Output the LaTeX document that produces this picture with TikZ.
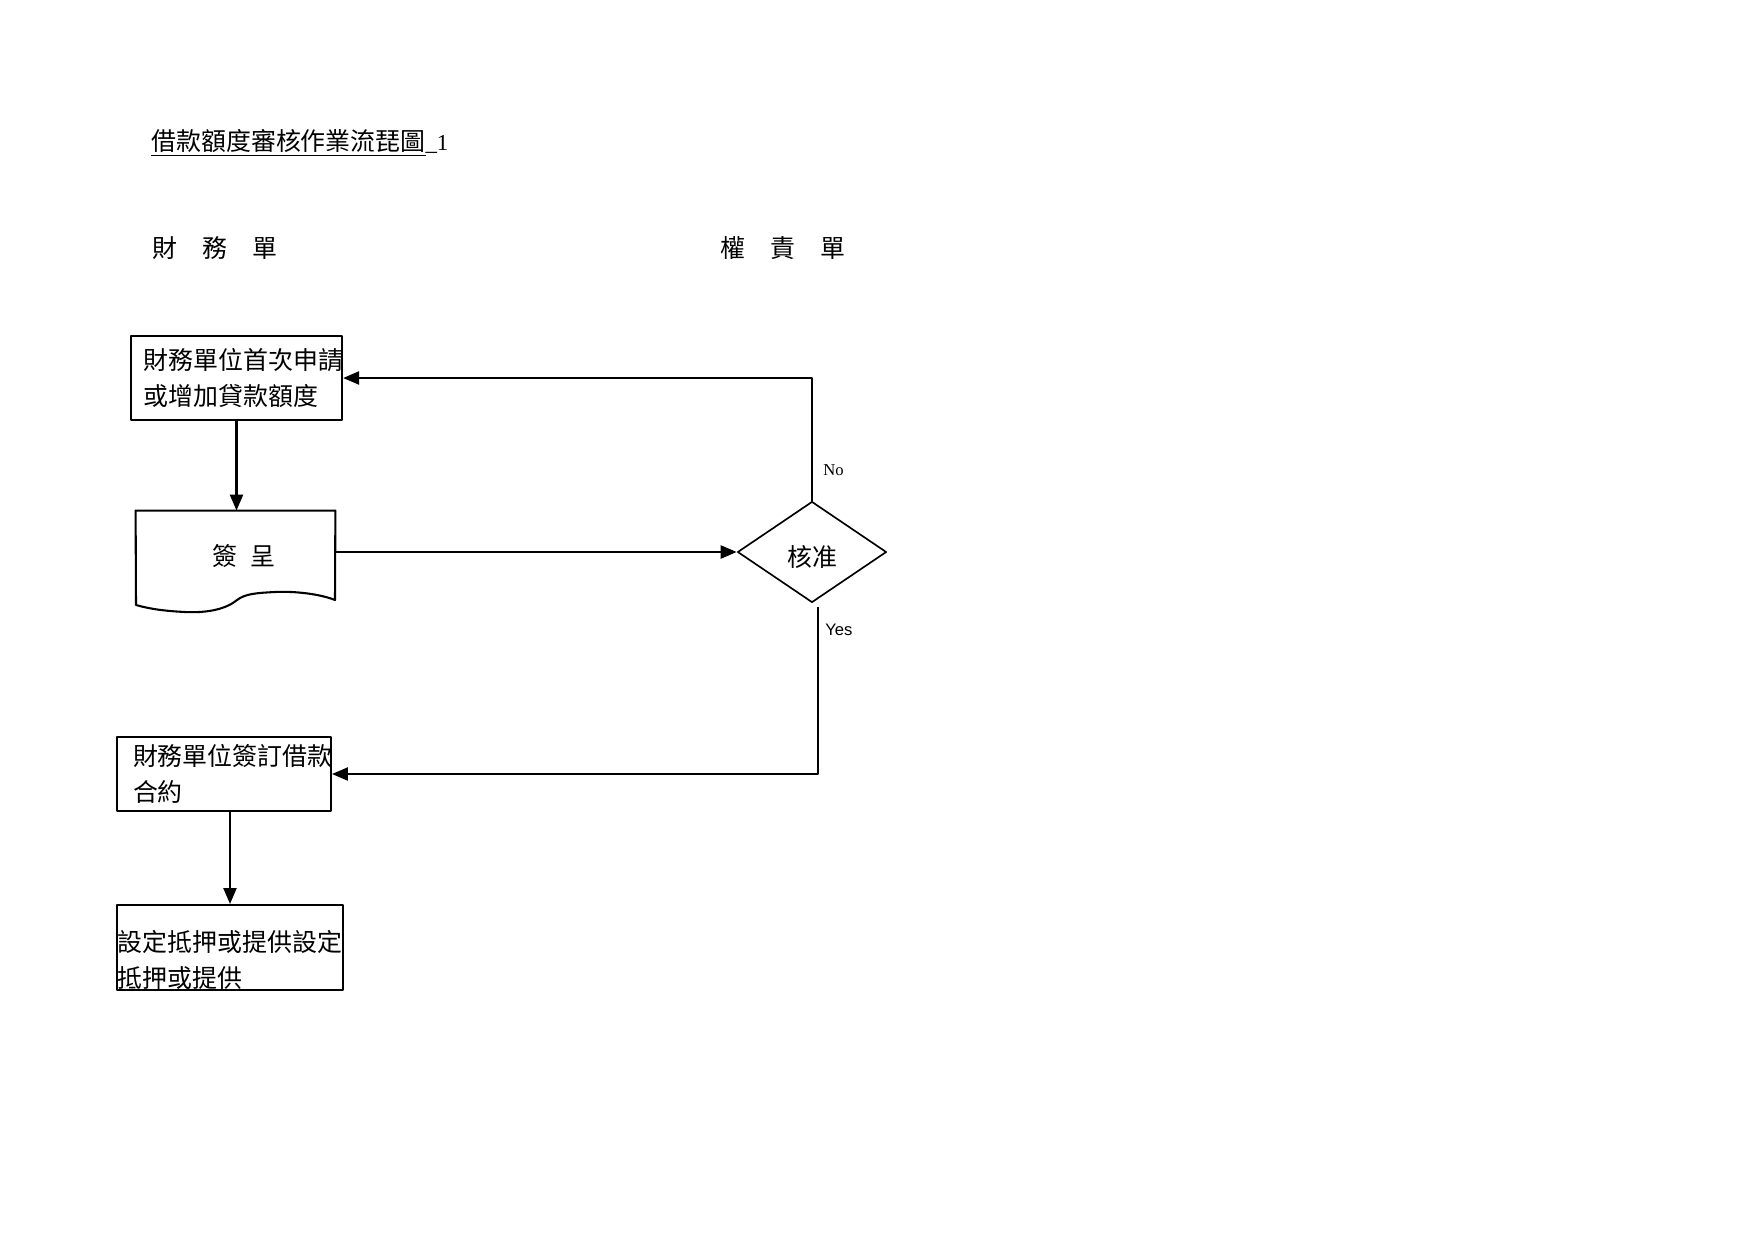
\documentclass[tikz,border=0pt]{standalone}
\usepackage{fontspec}
\setmainfont{Liberation Serif}
\newfontfamily\cjk{Noto Sans CJK TC}
\newfontfamily\arial{Liberation Sans}
\usetikzlibrary{shapes.geometric,arrows.meta}
\tikzset{
	box/.style={draw, line width=1pt, rectangle, align=left, inner ysep=0pt, font=\cjk\fontsize{12}{17}\selectfont},
	decide/.style={draw, line width=0.8pt, diamond, inner sep=0pt, minimum width=71.7pt, minimum height=48.6pt, font=\cjk\fontsize{12}{14}\selectfont},
	line/.style={line width=1pt},
	arrow/.style={line width=1pt, -{Triangle[length=7.7pt, width=6.3pt]}},
	lbl/.style={inner sep=0pt, font=\fontsize{8}{10}\selectfont},
	head/.style={anchor=west, inner sep=0pt, font=\cjk\fontsize{12}{14}\selectfont}
}
\begin{document}
\begin{tikzpicture}[x=0.48151pt, y=-0.48151pt, line join=round]
	\fill[white] (0,0) rectangle (1755,1241);
	\useasboundingbox (0,0) rectangle (1755,1241);
	% title and lanes
	\node[head] (title) at (151,143) {\underline{借款額度審核作業流琵圖}{\rmfamily\fontsize{11}{13}\selectfont\_1}};
	\node[head] (fin) at (152,248) {財　務　單};
	\node[head] (auth) at (720,248) {權　責　單};
	% steps
	\node[box, minimum width=101.6pt, minimum height=40.4pt, inner xsep=6.3pt, text width=89.1pt] (apply) at (236.5,378) {財務單位首次申請\\或增加貸款額度};
	\node[font=\cjk\fontsize{12}{14}\selectfont, minimum width=95.8pt, minimum height=39.5pt, inner sep=0pt] (sign) at (235.5,552) {\hspace*{8pt}\raisebox{-2pt}[\height][\depth]{簽\hspace{0.5em}呈}};
	\draw[line] (sign.north west) -- (sign.north east) -- (335,600) .. controls (320,594) and (295,591) .. (275,592) .. controls (255,593) and (245,594) .. (237,600) .. controls (225,610) and (205,613) .. (185,612) .. controls (165,611) and (150,609) .. (136,605) -- cycle;
	\node[decide] (ok) at (812,552) {\raisebox{-2.2pt}[\height][\depth]{核准}};
	\node[box, minimum width=103pt, minimum height=35.6pt, inner xsep=7.7pt, text width=87.6pt] (contract) at (224,774) {財務單位簽訂借款\\合約};
	\node[box, minimum width=108.8pt, minimum height=40.9pt, inner xsep=0.5pt, text width=107.9pt, text height=22pt] (mortgage) at (230,947.5) {設定抵押或提供設定\\抵押或提供};
	% connectors
	\draw[arrow] (apply.south) -- (apply.south |- sign.north);
	\draw[arrow] (sign.east) -- (ok.west);
	\draw[arrow] (ok.north) |- node[lbl, pos=0.125, right=5pt] (no) {No} (apply.east);
	\draw[arrow] ([xshift=2.9pt, yshift=-2pt]ok.south) |- node[lbl, pos=0.066, right=3pt, font=\arial\fontsize{8}{10}\selectfont] (yes) {Yes} (contract.east);
	\draw[arrow] (contract.south -| mortgage.north) -- (mortgage.north);
\end{tikzpicture}
\end{document}
